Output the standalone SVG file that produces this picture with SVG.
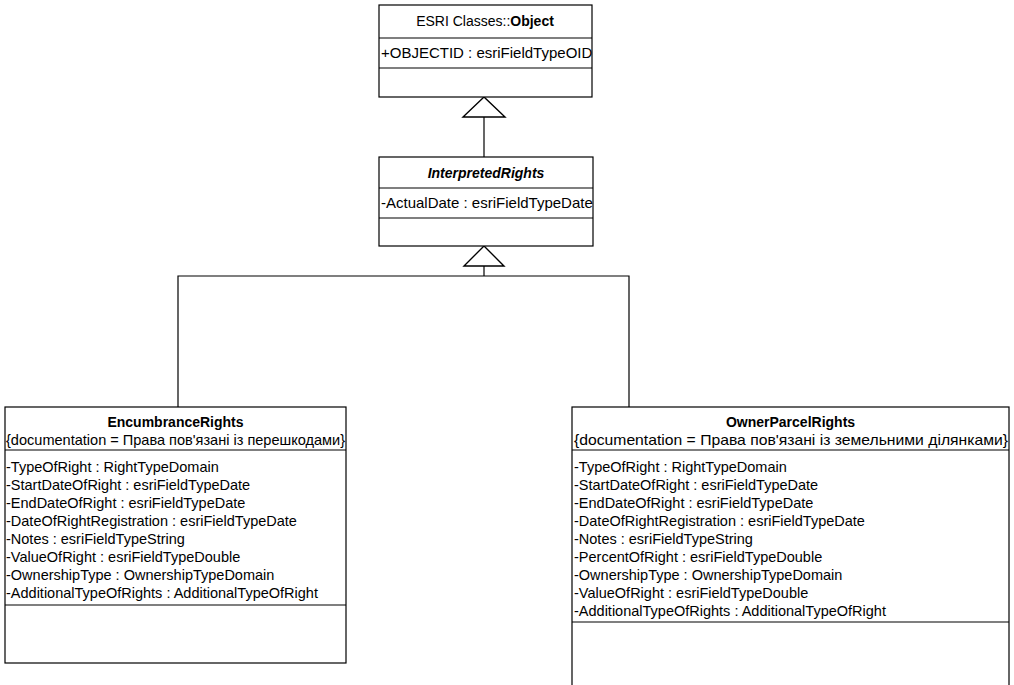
<svg xmlns="http://www.w3.org/2000/svg" width="1014" height="685" viewBox="0 0 1014 685">
  <style>
    .box { fill: #ffffff; stroke: #000000; stroke-width: 1.2; }
    .sep { stroke: #000000; stroke-width: 1.2; }
    .wire { fill: none; stroke: #000000; stroke-width: 1.2; }
    .tri { fill: #ffffff; stroke: #000000; stroke-width: 1.4; }
    text { font-family: "Liberation Sans", Arial, sans-serif; font-size: 14.5px; fill: #000000; }
    .top { font-size: 15px; }
    .title { text-anchor: middle; font-size: 14px; }
    .b { font-weight: bold; }
    .bi { font-weight: bold; font-style: italic; }
  </style>
  <rect width="1014" height="685" fill="#ffffff"/>

  <!-- generalisation connectors -->
  <g id="connectors">
    <line class="wire" x1="484" y1="117" x2="484" y2="157"/>
    <polygon class="tri" points="484,97 463,117 505,117"/>
    <polyline class="wire" points="484,266 484,276"/>
    <polyline class="wire" points="178,407 178,276 629,276 629,407"/>
    <polygon class="tri" points="484,246 464,266 504,266"/>
  </g>

  <!-- base class -->
  <g id="object">
    <rect class="box" x="379" y="5" width="213" height="92"/>
    <line class="sep" x1="379" y1="38" x2="592" y2="38"/>
    <line class="sep" x1="379" y1="68" x2="592" y2="68"/>
    <text class="title" x="485" y="26">ESRI Classes::<tspan class="b">Object</tspan></text>
    <text class="top" x="381" y="58">+OBJECTID : esriFieldTypeOID</text>
  </g>

  <!-- abstract rights class -->
  <g id="interpretedRights">
    <rect class="box" x="379" y="157" width="214" height="89"/>
    <line class="sep" x1="379" y1="188" x2="593" y2="188"/>
    <line class="sep" x1="379" y1="218" x2="593" y2="218"/>
    <text class="title bi" x="486" y="178">InterpretedRights</text>
    <text class="top" x="381" y="208">-ActualDate : esriFieldTypeDate</text>
  </g>

  <!-- encumbrance rights -->
  <g id="encumbranceRights">
    <rect class="box" x="5" y="407" width="341" height="256"/>
    <line class="sep" x1="5" y1="450" x2="346" y2="450"/>
    <line class="sep" x1="5" y1="605" x2="346" y2="605"/>
    <text class="title b" x="175.5" y="427">EncumbranceRights</text>
    <text x="6" y="445" textLength="339" lengthAdjust="spacingAndGlyphs">{documentation = Права пов'язані із перешкодами}</text>
    <text x="6" y="472">-TypeOfRight : RightTypeDomain</text>
    <text x="6" y="490">-StartDateOfRight : esriFieldTypeDate</text>
    <text x="6" y="508">-EndDateOfRight : esriFieldTypeDate</text>
    <text x="6" y="526">-DateOfRightRegistration : esriFieldTypeDate</text>
    <text x="6" y="544">-Notes : esriFieldTypeString</text>
    <text x="6" y="562">-ValueOfRight : esriFieldTypeDouble</text>
    <text x="6" y="580">-OwnershipType : OwnershipTypeDomain</text>
    <text x="6" y="598">-AdditionalTypeOfRights : AdditionalTypeOfRight</text>
  </g>

  <!-- owner parcel rights -->
  <g id="ownerParcelRights">
    <rect class="box" x="572" y="407" width="437" height="290"/>
    <line class="sep" x1="572" y1="450" x2="1009" y2="450"/>
    <line class="sep" x1="572" y1="622" x2="1009" y2="622"/>
    <text class="title b" x="790.5" y="427">OwnerParcelRights</text>
    <text x="574" y="445" textLength="434" lengthAdjust="spacingAndGlyphs">{documentation = Права пов'язані із земельними ділянками}</text>
    <text x="574" y="472">-TypeOfRight : RightTypeDomain</text>
    <text x="574" y="490">-StartDateOfRight : esriFieldTypeDate</text>
    <text x="574" y="508">-EndDateOfRight : esriFieldTypeDate</text>
    <text x="574" y="526">-DateOfRightRegistration : esriFieldTypeDate</text>
    <text x="574" y="544">-Notes : esriFieldTypeString</text>
    <text x="574" y="562">-PercentOfRight : esriFieldTypeDouble</text>
    <text x="574" y="580">-OwnershipType : OwnershipTypeDomain</text>
    <text x="574" y="598">-ValueOfRight : esriFieldTypeDouble</text>
    <text x="574" y="616">-AdditionalTypeOfRights : AdditionalTypeOfRight</text>
  </g>
</svg>
